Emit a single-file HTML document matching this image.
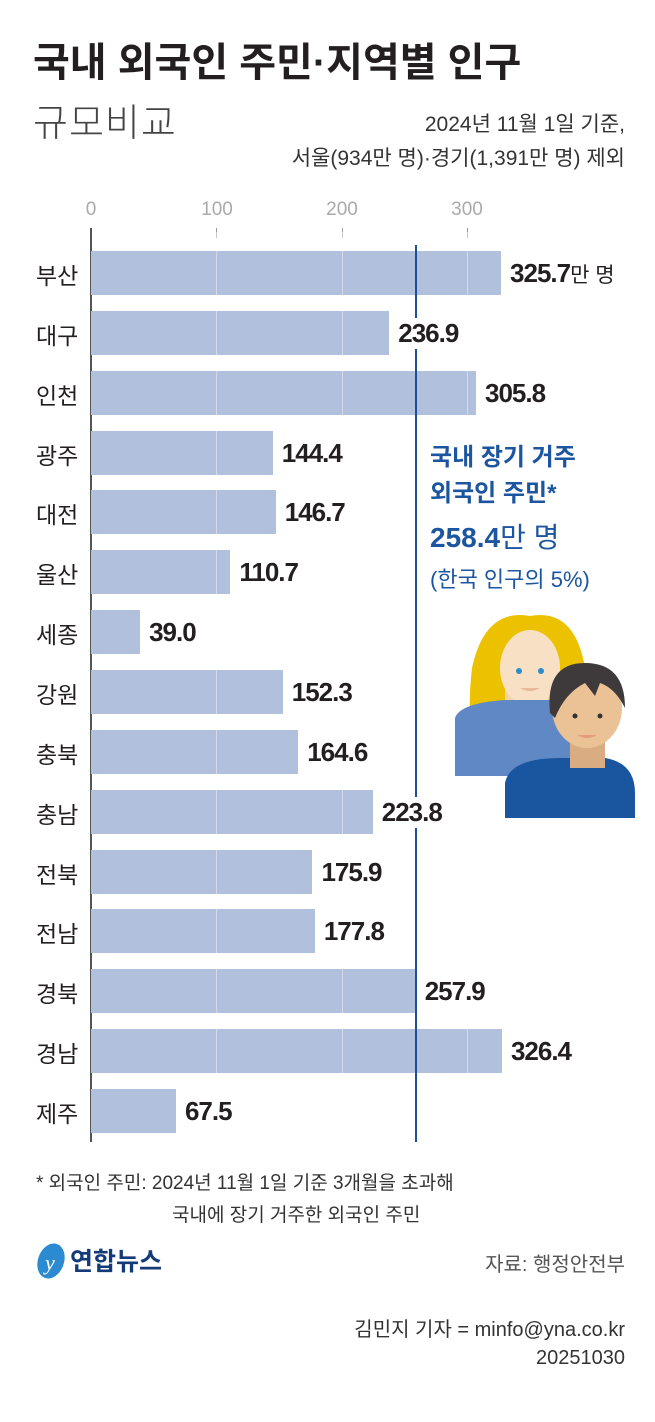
<!DOCTYPE html>
<html><head><meta charset="utf-8"><style>
body{margin:0;width:655px;height:1422px;background:#fff;position:relative;overflow:hidden;font-family:"Liberation Sans","Noto Sans CJK KR",sans-serif;color:#231f20}
.a{position:absolute;white-space:nowrap}
.bar{position:absolute;left:91px;height:44px;background:#b1c0dd}
.lab{position:absolute;left:36px;font-size:23px;color:#231f20}
.val{position:absolute;font-size:26px;font-weight:bold;letter-spacing:-1px;background:#fff;padding:0 2px;z-index:3}
.tk{position:absolute;top:199px;font-size:19px;color:#aaa;transform:translateX(-50%)}
.grid{position:absolute;top:232px;width:1px;height:910px;background:rgba(255,255,255,0.45)}
</style></head><body>
<div class="a" style="left:33px;top:30px;font-size:40px;font-weight:bold;letter-spacing:0px">국내 외국인 주민·지역별 인구</div>
<div class="a" style="left:33px;top:92px;font-size:38px;font-weight:300;color:#444;letter-spacing:1px">규모비교</div>
<div class="a" style="right:30px;top:108px;font-size:21px;color:#333;text-align:right;line-height:34px">2024년 11월 1일 기준,<br>서울(934만 명)·경기(1,391만 명) 제외</div>
<div class="tk" style="left:91px">0</div>
<div class="tk" style="left:217px">100</div>
<div class="tk" style="left:342px">200</div>
<div class="tk" style="left:467px">300</div>
<div class="a" style="left:216px;top:228px;width:1px;height:10px;background:#999"></div>
<div class="a" style="left:342px;top:228px;width:1px;height:10px;background:#999"></div>
<div class="a" style="left:467px;top:228px;width:1px;height:10px;background:#999"></div>
<div class="a" style="left:90px;top:228px;width:2px;height:914px;background:#555"></div>
<div id="rows"></div>
<div class="grid" style="left:216px"></div>
<div class="grid" style="left:342px"></div>
<div class="grid" style="left:467px"></div>
<div class="a" style="left:415px;top:245px;width:2px;height:897px;background:#1c4f97;z-index:2"></div>
<div class="a" style="left:430px;top:440px;font-size:24px;font-weight:bold;color:#1c55a0;line-height:36px">국내 장기 거주<br>외국인 주민*</div>
<div class="a" style="left:430px;top:516px;font-size:28px;color:#1c55a0"><b>258.4</b>만 명</div>
<div class="a" style="left:430px;top:562px;font-size:22px;color:#1c55a0">(한국 인구의 5%)</div>
<svg class="a" style="left:450px;top:608px;z-index:4" width="190" height="210">
<path d="M30 150 Q15 120 22 60 Q35 0 80 8 Q125 0 135 60 Q140 110 130 150Z" fill="#ecc200"/>
<rect x="55" y="75" width="50" height="55" fill="#f1d3a4"/>
<ellipse cx="80" cy="60" rx="30" ry="38" fill="#f8e0c4"/>
<path d="M5 110 Q10 95 55 92 L110 92 Q140 95 145 120 L145 168 L5 168Z" fill="#5f88c5"/>
<circle cx="69" cy="63" r="3" fill="#2a8ec9"/><circle cx="91" cy="63" r="3" fill="#2a8ec9"/>
<path d="M70 80 Q80 86 90 80Z" fill="#e9b79c"/>
<path d="M55 210 L55 175 Q60 150 110 150 L155 150 Q185 155 185 185 L185 210Z" fill="#1a55a0"/>
<rect x="120" y="115" width="35" height="45" fill="#d9ac82"/>
<ellipse cx="137" cy="100" rx="35" ry="40" fill="#ebc196"/>
<path d="M100 105 Q95 55 135 55 Q175 55 175 100 Q165 80 150 75 L145 88 L135 75 Q115 85 105 110Z" fill="#3e3a3b"/>
<circle cx="125" cy="108" r="2.5" fill="#333"/><circle cx="150" cy="108" r="2.5" fill="#333"/>
<path d="M127 127 Q137 133 147 127Z" fill="#e69b80"/>
</svg>
<div class="a" style="left:36px;top:1168px;font-size:19px;color:#333;line-height:32px">* 외국인 주민: 2024년 11월 1일 기준 3개월을 초과해<br><span style="padding-left:136px">국내에 장기 거주한 외국인 주민</span></div>
<svg class="a" style="left:34px;top:1240px" width="34" height="42"><ellipse cx="17" cy="21" rx="13" ry="18" fill="#2b8ad0" transform="rotate(20 17 21)"/><text x="11" y="30" font-size="22" fill="#fff" font-style="italic" font-family="Liberation Serif">y</text></svg>
<div class="a" style="left:70px;top:1242px;font-size:25px;font-weight:bold;color:#143b78">연합뉴스</div>
<div class="a" style="right:30px;top:1248px;font-size:20px;color:#555">자료: 행정안전부</div>
<div class="a" style="right:30px;top:1316px;font-size:20px;color:#333;text-align:right;line-height:28px">김민지 기자 = minfo@yna.co.kr<br>20251030</div>
<script>
var d=[["부산",325.7],["대구",236.9],["인천",305.8],["광주",144.4],["대전",146.7],["울산",110.7],["세종",39.0],["강원",152.3],["충북",164.6],["충남",223.8],["전북",175.9],["전남",177.8],["경북",257.9],["경남",326.4],["제주",67.5]];
var h="";d.forEach(function(r,i){var c=273+i*59.86,w=r[1]*1.259;
h+='<div class="bar" style="top:'+(c-22)+'px;width:'+w+'px"></div>';
h+='<div class="lab" style="top:'+(c-16)+'px">'+r[0]+'</div>';
h+='<div class="val" style="left:'+(91+w+7)+'px;top:'+(c-15)+'px">'+r[1].toFixed(1)+(i==0?'<span style="font-weight:normal;font-size:21px;letter-spacing:0">만 명</span>':'')+'</div>';});
document.getElementById("rows").innerHTML=h;
</script>
</body></html>
